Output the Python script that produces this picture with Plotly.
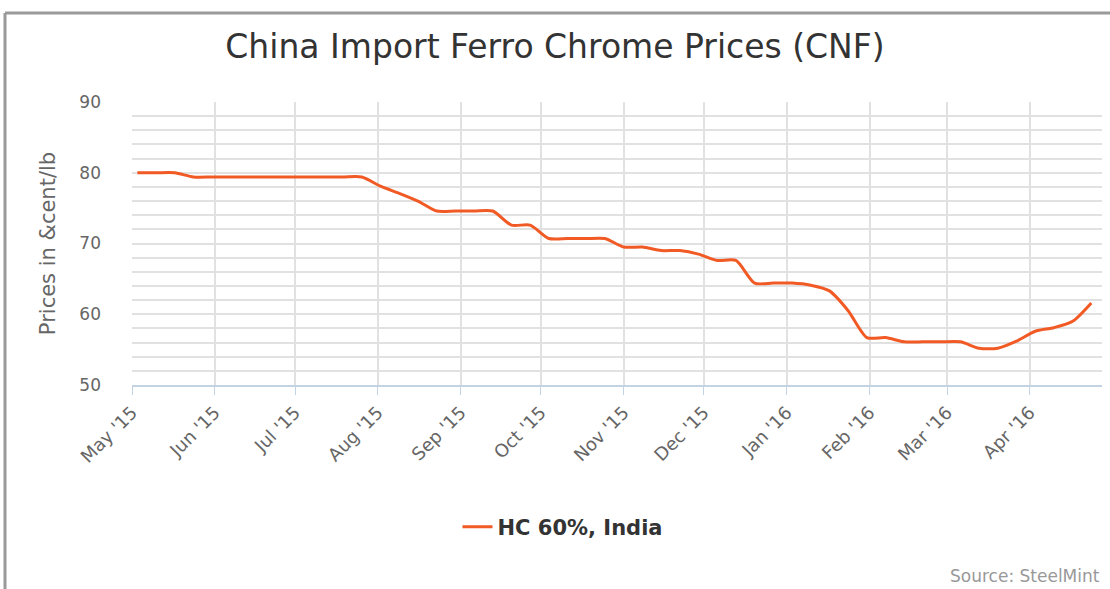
import pandas as pd
import plotly.graph_objects as go

# weekly price readings, HC 60% India (US cents / lb)
dates = pd.date_range("2015-05-03", periods=52, freq="7D")
prices = [
    80.0, 80.0, 80.0, 79.4, 79.4, 79.4, 79.4, 79.4, 79.4, 79.4,
    79.4, 79.4, 79.4, 78.1, 77.1, 76.0, 74.6, 74.6, 74.6, 74.6,
    72.6, 72.6, 70.7, 70.7, 70.7, 70.7, 69.5, 69.5, 69.0, 69.0,
    68.5, 67.6, 67.6, 64.4, 64.4, 64.4, 64.1, 63.3, 60.5, 56.7,
    56.7, 56.1, 56.1, 56.1, 56.1, 55.2, 55.2, 56.2, 57.6, 58.1,
    59.0, 61.6,
]
series_name = "HC 60%, India"
title_text = "China Import Ferro Chrome Prices (CNF)"
y_title = "Prices in &cent/lb"
source_text = "Source: SteelMint"

W, H = 1110, 589
L, R, T, B = 132, 8, 102, 204
pw, ph = W - L - R, H - T - B

fig = go.Figure()
fig.add_trace(
    go.Scatter(
        x=dates,
        y=prices,
        mode="lines",
        name=series_name,
        line=dict(color="#f15a24", width=3, shape="spline", smoothing=0.7),
    )
)

grid = "#e1e1e1"
axis_blue = "#c4d3e4"
fig.update_layout(
    width=W,
    height=H,
    margin=dict(l=L, r=R, t=T, b=B),
    paper_bgcolor="white",
    plot_bgcolor="white",
    font=dict(family="DejaVu Sans", color="#666666"),
    title=dict(
        text=title_text,
        x=0.5,
        xref="container",
        y=1 - 46 / H,
        yref="container",
        yanchor="middle",
        font=dict(family="DejaVu Sans", size=33, color="#333333"),
    ),
    showlegend=True,
    legend=dict(
        orientation="h",
        xref="container",
        x=563 / W,
        xanchor="center",
        yref="container",
        y=1 - 527 / H,
        yanchor="middle",
        font=dict(family="DejaVu Sans", size=21, color="#333333", weight="bold"),
    ),
    xaxis=dict(
        range=["2015-05-01", "2016-04-28"],
        tick0="2015-05-01",
        dtick="M1",
        tickformat="%b '%y",
        tickangle=-45,
        ticks="outside",
        ticklen=8,
        tickcolor=axis_blue,
        showgrid=True,
        gridcolor=grid,
        gridwidth=1.5,
        showline=True,
        linecolor=axis_blue,
        linewidth=2,
        zeroline=False,
        tickfont=dict(size=18, color="#666666"),
    ),
    yaxis=dict(
        range=[50, 90],
        dtick=10,
        showgrid=True,
        gridcolor=grid,
        gridwidth=1.5,
        zeroline=False,
        showline=False,
        ticks="",
        ticklabelstandoff=30,
        tickfont=dict(size=17, color="#666666"),
        minor=dict(dtick=2, showgrid=True, gridcolor=grid, gridwidth=1.5),
        title=dict(text=y_title, standoff=18, font=dict(size=21, color="#666666")),
    ),
)

# outer frame (top and left edge, as cropped in the source screenshot)
fx0 = (5 - L) / pw
fy1 = 1 + (T - 13) / ph
fy0 = -(B + 5) / ph
fig.add_shape(type="line", xref="paper", yref="paper", x0=fx0, x1=1 + (R + 5) / pw,
              y0=fy1, y1=fy1, line=dict(color="#9a9a9a", width=3))
fig.add_shape(type="line", xref="paper", yref="paper", x0=fx0, x1=fx0,
              y0=fy0, y1=fy1, line=dict(color="#9a9a9a", width=3))

fig.add_annotation(
    text=source_text,
    xref="paper",
    yref="paper",
    x=1,
    xanchor="right",
    y=-(576 - (T + ph)) / ph,
    yanchor="middle",
    showarrow=False,
    font=dict(family="DejaVu Sans", size=17, color="#999999"),
)

fig.write_html(
    "out.html",
    config={"displayModeBar": False},
    post_script="document.body.style.margin='0';",
)
